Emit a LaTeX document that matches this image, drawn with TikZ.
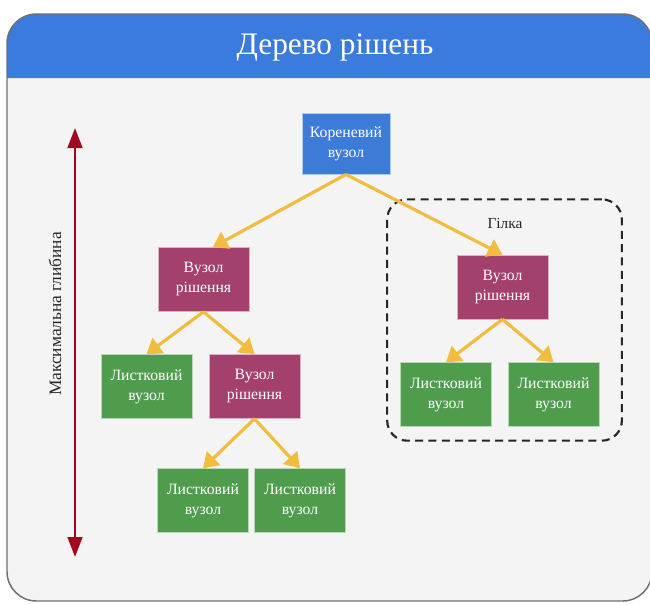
\documentclass[tikz,border=0pt]{standalone}
\usepackage{fontspec}
\setmainfont{Liberation Serif}
\usetikzlibrary{arrows.meta,calc}
\definecolor{titleblue}{HTML}{3B7BDD}
\definecolor{rootblue}{HTML}{3D7BD9}
\definecolor{decred}{HTML}{A3406B}
\definecolor{leafgreen}{HTML}{4E9C4C}
\definecolor{gold}{HTML}{F1BC3F}
\definecolor{depthred}{HTML}{A00A1E}
\definecolor{bodygray}{HTML}{F4F4F4}
\definecolor{framegray}{HTML}{707070}
\tikzset{
  nodebox/.style={rectangle, draw=white!60!#1, line width=0.4pt, fill=#1, text=white,
    minimum width=68pt, minimum height=48pt, inner sep=0pt, align=center,
    font=\fontsize{11.8}{15}\selectfont},
  link/.style={gold, line width=2.4pt, -{Triangle[length=11pt,width=14pt]}},
  depth/.style={depthred, line width=1.9pt, {Triangle[length=15pt,width=11pt]}-{Triangle[length=15pt,width=11pt]}},
  branchbox/.style={draw=black!85, line width=1.6pt, dash pattern=on 6pt off 4pt,
    rounded corners=15pt, minimum width=176pt, minimum height=181pt, inner sep=0pt},
  plaintext/.style={text=black!85, font=\fontsize{11.5}{15}\selectfont},
}
\begin{document}
\begin{tikzpicture}[x=0.75pt,y=-0.75pt]
\useasboundingbox (0,0) rectangle (650,604);
\clip (0,0) rectangle (650,604);
\fill[white] (0,0) rectangle (650,604);
% frame
\fill[bodygray, rounded corners=22pt] (7,14) rectangle (652,601);
\fill[titleblue] (7,78) [rounded corners=22pt] -- (7,14) -- (652,14) [sharp corners] -- (652,78) -- cycle;
\draw[framegray, line width=1.1pt, rounded corners=22pt] (7,14) rectangle (652,601);
\node[text=white, font=\fontsize{23.5}{28}\selectfont] (title) at (335,47) {Дерево рішень};
% branch box
\node[branchbox] (branch) at (504.5,320) {};
\node[plaintext] (branchlabel) at (505,223) {Гілка};
% nodes
\node[nodebox=rootblue, minimum width=66pt, minimum height=46pt] (root) at (346,143.5) {Кореневий\\вузол};
\node[nodebox=decred] (d1) at (203.5,279.5) {Вузол\\рішення};
\node[nodebox=leafgreen] (l1) at (146.5,386.5) {Листковий\\вузол};
\node[nodebox=decred] (d2) at (254.5,386.5) {Вузол\\рішення};
\node[nodebox=leafgreen] (l2) at (203,500.5) {Листковий\\вузол};
\node[nodebox=leafgreen] (l3) at (300,500.5) {Листковий\\вузол};
\node[nodebox=decred] (d3) at (502.5,287) {Вузол\\рішення};
\node[nodebox=leafgreen] (l4) at (446,394.5) {Листковий\\вузол};
\node[nodebox=leafgreen] (l5) at (553.5,394.5) {Листковий\\вузол};
% links
\draw[link] (root.south) -- ([xshift=7pt]d1.north);
\draw[link] (root.south) -- (d3.north);
\draw[link] (d1.south) -- (l1.north);
\draw[link] (d1.south) -- (d2.north);
\draw[link] (d2.south) -- (l2.north);
\draw[link] (d2.south) -- (l3.north);
\draw[link] (d3.south) -- (l4.north);
\draw[link] (d3.south) -- (l5.north);
% depth
\coordinate (dtop) at (75,128);
\coordinate (dbot) at (75,557);
\draw[depth] (dtop) -- (dbot);
\node[plaintext, rotate=90, font=\fontsize{13}{15}\selectfont] (depthlabel) at (55,314) {Максимальна глибина};
\end{tikzpicture}
\end{document}
